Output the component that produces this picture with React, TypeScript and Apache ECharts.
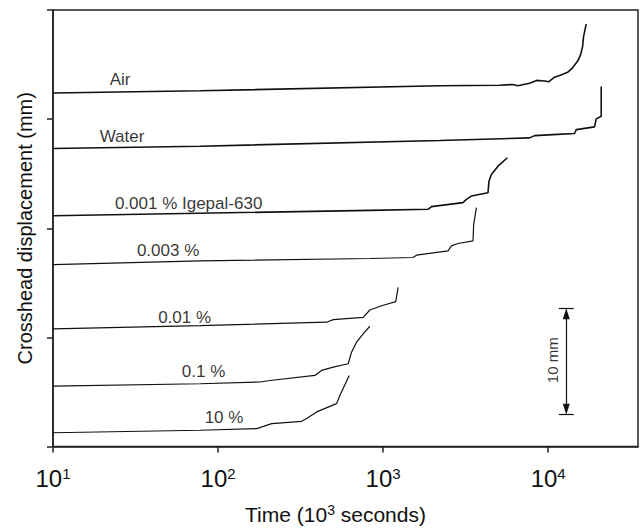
import { useEffect, useRef } from 'react';
import * as echarts from 'echarts';

// Time (10^3 s) and crosshead displacement (mm)
const airTime = [10, 77.8, 2203, 5082, 6091, 6530, 7718, 8507, 9511, 10055, 10932, 12055, 13104, 14047, 15062, 15704, 16147, 16375, 17002];
const airMm = [32.39, 32.6, 33.06, 33.1, 33.18, 33.06, 33.29, 33.55, 33.5, 33.42, 33.84, 34.06, 34.29, 34.7, 35.3, 35.89, 36.62, 37.56, 38.72];

const waterTime = [10, 77.8, 2203, 7718, 8274, 10676, 14443, 14791, 19086, 19543, 20955, 20955];
const waterMm = [27.31, 27.52, 28.04, 28.28, 28.49, 28.58, 28.68, 29.04, 29.29, 30.02, 30.26, 33.0];

const ig001Time = [10, 830.9, 1872, 1963, 3047, 3194, 3426, 4318, 4379, 4528, 4963, 5656];
const ig001Mm = [21.14, 21.64, 21.74, 21.98, 22.35, 22.65, 22.95, 23.26, 24.32, 24.93, 25.69, 26.46];

const ig003Time = [10, 77.8, 830.9, 1519, 1592, 2474, 2594, 2843, 3503, 3537, 3673];
const ig003Mm = [16.67, 17.01, 17.23, 17.32, 17.53, 17.93, 18.38, 18.6, 18.84, 20.37, 21.89];

const ig01Time = [10, 77.8, 454.6, 498.3, 756.8, 830.9, 977.9, 1193, 1232];
const ig01Mm = [10.78, 11.08, 11.39, 11.63, 11.84, 12.51, 12.9, 13.27, 14.58];

const ig1Time = [10, 77.8, 179.6, 206.4, 386.2, 424.0, 498.3, 614.2, 643.9, 690.4, 756.8, 830.9];
const ig1Mm = [5.54, 5.75, 5.91, 6.05, 6.51, 6.97, 7.28, 7.58, 8.65, 9.56, 10.32, 11.02];

const ig10Time = [10, 77.8, 171.5, 211.3, 320.9, 344.0, 395.5, 522.5, 547.1, 622.8];
const ig10Mm = [1.26, 1.49, 1.64, 2.1, 2.31, 2.56, 3.17, 3.93, 4.68, 6.51];

const curveLabels = ['Air', 'Water', '0.001 % Igepal-630', '0.003 %', '0.01 %', '0.1 %', '10 %'];
const labelTime = [25.5, 26.2, 66.3, 49.8, 62.7, 81.7, 108.7];
const labelMm = [33.6, 28.4, 22.3, 18.0, 11.8, 6.9, 2.7];

const xTicks = [10, 100, 1000, 10000];
const xMin = 10;
const xMax = 35000;
const yMin = 0;
const yMax = 40;
const yInterval = 10;

// 10 mm scale bar
const barTime = 12868;
const barTop = 12.67;
const barBottom = 2.92;
const capLeft = 11590;
const capRight = 14284;
const barLabel = '10 mm';
const barLabelTime = 10603;
const barLabelMm = 7.9;

const FONT = 'Liberation Sans, Arial, Helvetica, sans-serif';

const pairs = (t: number[], m: number[]) => t.map((v, i) => [v, m[i]]);

export default function App() {
  const ref = useRef<HTMLDivElement>(null);
  useEffect(() => {
    if (!ref.current) return;
    const chart = echarts.init(ref.current, null, { renderer: 'svg' });
    const lineSeries = (data: number[][], width: number) => ({
      type: 'line',
      data,
      showSymbol: false,
      symbol: 'none',
      silent: true,
      lineStyle: { color: '#111', width },
      z: 3,
    });
    const arrowOff = 0.5;
    const labelStyle = {
      show: true,
      position: 'inside',
      formatter: (p: any) => p.name,
      fontFamily: FONT,
      color: '#000',
      textBorderWidth: 0,
      textBorderColor: 'transparent',
      textShadowBlur: 0,
    };
    chart.setOption({
      animation: false,
      backgroundColor: '#fff',
      textStyle: { fontFamily: FONT },
      grid: { left: 53, right: 2, top: 10, bottom: 82, show: true, borderColor: '#222', borderWidth: 1.5, backgroundColor: 'transparent' },
      xAxis: {
        type: 'log',
        logBase: 10,
        min: xMin,
        max: xMax,
        splitLine: { show: false },
        axisLine: { show: true, lineStyle: { color: '#222', width: 1.5 } },
        axisTick: { show: true, length: 6, lineStyle: { color: '#222', width: 1.5 }, customValues: xTicks },
        axisLabel: {
          customValues: xTicks,
          margin: 19,
          formatter: (v: number) => {
            const e = Math.round(Math.log10(v));
            if (Math.abs(Math.log10(v) - e) > 1e-6) return '';
            return `{b|10}{s|${e}}`;
          },
          rich: {
            b: { fontSize: 24, fontFamily: FONT, color: '#111', lineHeight: 26 },
            s: { fontSize: 15, fontFamily: FONT, color: '#111', verticalAlign: 'top', lineHeight: 15 },
          },
        },
        name: '{t|Time (10}{s|3}{t| seconds)}',
        nameLocation: 'middle',
        nameGap: 56,
        nameTextStyle: {
          padding: [0, 20, 0, 0],
          rich: {
            t: { fontSize: 21, fontFamily: FONT, color: '#111', lineHeight: 24 },
            s: { fontSize: 14, fontFamily: FONT, color: '#111', verticalAlign: 'top', lineHeight: 14 },
          },
        },
      },
      yAxis: {
        type: 'value',
        min: yMin,
        max: yMax,
        interval: yInterval,
        splitLine: { show: false },
        axisLine: { show: true, lineStyle: { color: '#222', width: 1.5 } },
        axisTick: { show: true, length: 6, lineStyle: { color: '#222', width: 1.5 } },
        axisLabel: { show: false },
        name: 'Crosshead displacement (mm)',
        nameLocation: 'middle',
        nameGap: 18,
        nameTextStyle: { fontSize: 20, fontFamily: FONT, color: '#111' },
      },
      series: [
        lineSeries(pairs(airTime, airMm), 1.6),
        lineSeries(pairs(waterTime, waterMm), 1.6),
        lineSeries(pairs(ig001Time, ig001Mm), 1.6),
        lineSeries(pairs(ig003Time, ig003Mm), 1.2),
        lineSeries(pairs(ig01Time, ig01Mm), 1.2),
        lineSeries(pairs(ig1Time, ig1Mm), 1.2),
        lineSeries(pairs(ig10Time, ig10Mm), 1.2),
        {
          type: 'scatter',
          silent: true,
          symbolSize: 1,
          itemStyle: { color: 'rgba(0,0,0,0)' },
          data: curveLabels.map((name, i) => ({ value: [labelTime[i], labelMm[i]], name })),
          label: { ...labelStyle, fontSize: 17 },
          z: 4,
        },
        {
          type: 'scatter',
          silent: true,
          symbolSize: 1,
          itemStyle: { color: 'rgba(0,0,0,0)' },
          data: [{ value: [barLabelTime, barLabelMm], name: barLabel }],
          label: { ...labelStyle, fontSize: 15, rotate: 90 },
          markLine: {
            silent: true,
            animation: false,
            symbol: ['triangle', 'triangle'],
            symbolSize: [7, 11],
            label: { show: false },
            lineStyle: { color: '#111', width: 1.2, type: 'solid' },
            data: [
              [{ coord: [barTime, barTop - arrowOff] }, { coord: [barTime, barBottom + arrowOff] }],
              [{ coord: [capLeft, barTop], symbol: 'none' }, { coord: [capRight, barTop], symbol: 'none' }],
              [{ coord: [capLeft, barBottom], symbol: 'none' }, { coord: [capRight, barBottom], symbol: 'none' }],
            ],
          },
          z: 4,
        },
      ],
    });
    return () => chart.dispose();
  }, []);
  return <div ref={ref} style={{ position: 'fixed', left: 0, top: 0, width: 640, height: 530, background: '#fff' }} />;
}
